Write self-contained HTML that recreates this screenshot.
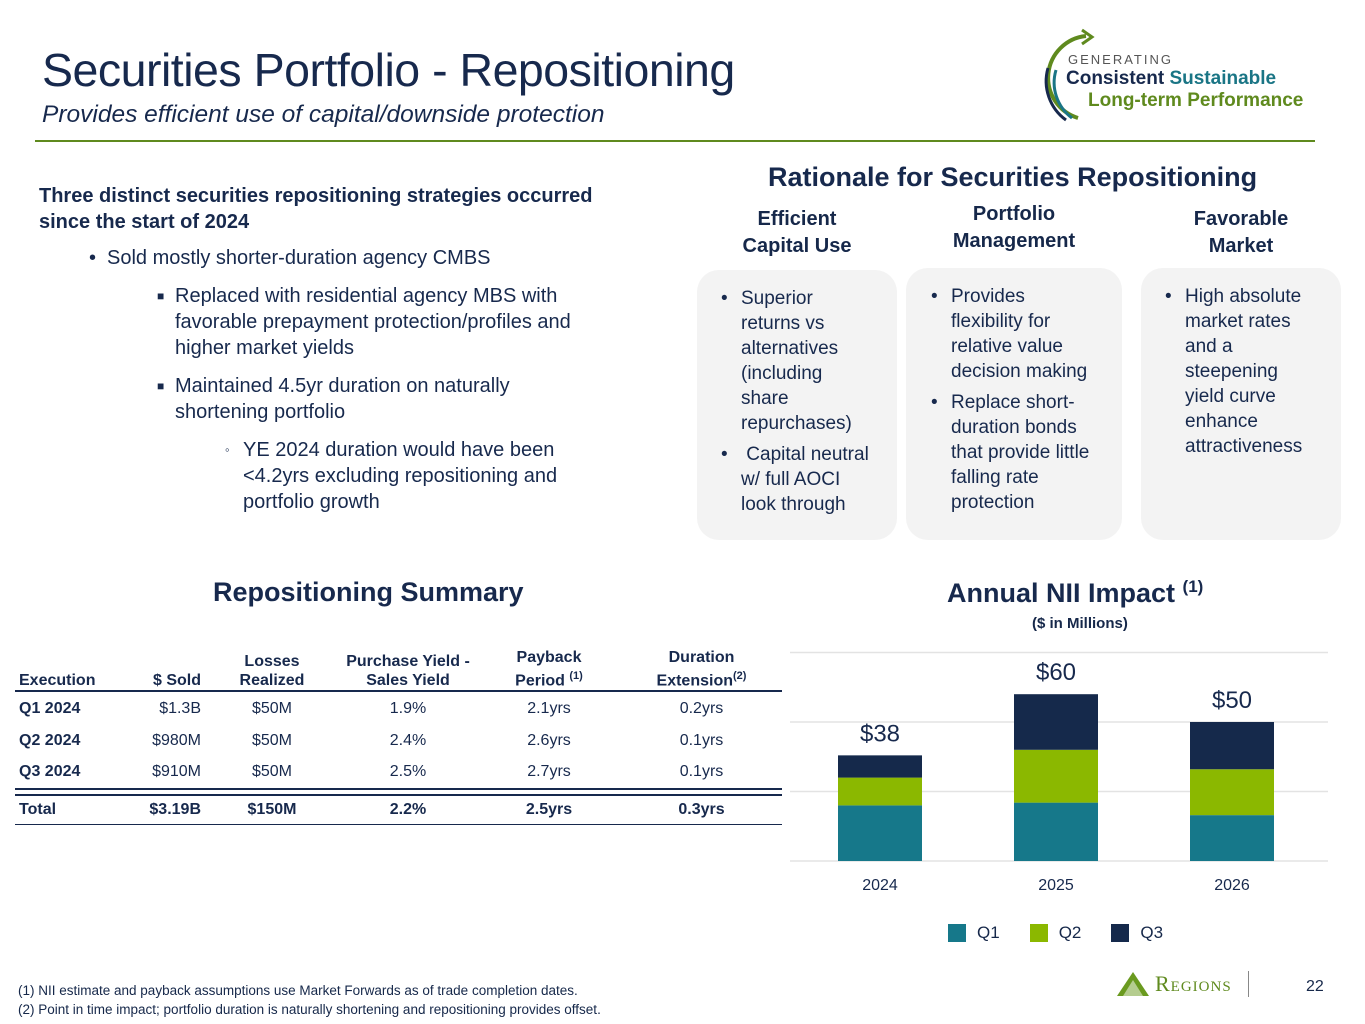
<!DOCTYPE html>
<html><head><meta charset="utf-8">
<style>
*{margin:0;padding:0;box-sizing:border-box}
body{width:1365px;height:1024px;background:#fff;position:relative;overflow:hidden;font-family:"Liberation Sans",sans-serif;color:#16284a}
.a{position:absolute}
.title{left:42px;top:43px;font-size:46.5px;color:#17294d;letter-spacing:-0.5px}
.sub{left:42px;top:101px;font-size:24.5px;font-style:italic;color:#17294d}
.rule{left:35px;top:140px;width:1280px;height:2px;background:#5f8a1e}
.h{font-weight:bold;font-size:27px;color:#17294d}
.card{background:#f3f3f3;border-radius:22px}
.card ul{list-style:none;font-size:19px;line-height:25px;color:#17294d}
.card li{position:relative;padding-left:20px;margin-bottom:6px}
.card li:before{content:"•";position:absolute;left:0}
.col{font-weight:bold;font-size:20px;text-align:center;line-height:27px}
.txt{font-size:20px;line-height:26px;color:#17294d}
table{border-collapse:collapse;font-size:16px;color:#17294d;table-layout:fixed}
td,th{padding:0 4px;text-align:center}
.lg{width:18px;height:18px}
</style></head><body>
<div class="a title">Securities Portfolio - Repositioning</div>
<div class="a sub">Provides efficient use of capital/downside protection</div>
<div class="a rule"></div>

<div class="a" style="left:1036px;top:28px;width:290px;height:95px">
<svg class="a" style="left:0;top:0" width="90" height="95"><path d="M50 8 A42 42 0 0 0 42 90" fill="none" stroke="#5f8a1e" stroke-width="4"/><path d="M46 2 L56 9 L46 16" fill="none" stroke="#5f8a1e" stroke-width="3"/><path d="M12 40 A48 48 0 0 0 30 92" fill="none" stroke="#17294d" stroke-width="3"/><path d="M20 42 A44 44 0 0 0 36 90" fill="none" stroke="#1a7585" stroke-width="3"/></svg>
<div class="a" style="left:32px;top:24px;font-size:13px;letter-spacing:2px;color:#555">GENERATING</div>
<div class="a" style="left:30px;top:40px;font-size:19px;font-weight:bold;color:#17294d">Consistent <span style="color:#1a7585">Sustainable</span></div>
<div class="a" style="left:52px;top:62px;font-size:19px;font-weight:bold;color:#5f8a1e">Long-term Performance</div>
</div>

<div class="a txt" style="left:39px;top:183px;width:595px">
<div style="font-weight:bold">Three distinct securities repositioning strategies occurred since the start of 2024</div>
<div style="margin:10px 0 0 50px;padding-left:18px;position:relative"><span class="a" style="left:0">•</span>Sold mostly shorter-duration agency CMBS</div>
<div style="margin:12px 0 0 118px;padding-left:18px;position:relative;width:440px"><span class="a" style="left:0;font-size:12px">■</span>Replaced with residential agency MBS with favorable prepayment protection/profiles and higher market yields</div>
<div style="margin:12px 0 0 118px;padding-left:18px;position:relative;width:420px"><span class="a" style="left:0;font-size:12px">■</span>Maintained 4.5yr duration on naturally shortening portfolio</div>
<div style="margin:12px 0 0 186px;padding-left:18px;position:relative;width:380px"><span class="a" style="left:0;font-size:13px">◦</span>YE 2024 duration would have been &lt;4.2yrs excluding repositioning and portfolio growth</div>
</div>

<div class="a h" style="left:768px;top:162px">Rationale for Securities Repositioning</div>
<div class="a col" style="left:697px;top:206px;width:200px">Efficient<br>Capital Use</div>
<div class="a col" style="left:906px;top:201px;width:216px">Portfolio<br>Management</div>
<div class="a col" style="left:1141px;top:206px;width:200px">Favorable<br>Market</div>
<div class="a card" style="left:697px;top:270px;width:200px;height:270px;padding:16px 0 0 24px;white-space:nowrap"><ul><li>Superior<br>returns vs<br>alternatives<br>(including<br>share<br>repurchases)</li><li>&nbsp;Capital neutral<br>w/ full AOCI<br>look through</li></ul></div>
<div class="a card" style="left:906px;top:268px;width:216px;height:272px;padding:16px 28px 0 25px"><ul><li>Provides flexibility for relative value decision making</li><li>Replace short-duration bonds that provide little falling rate protection</li></ul></div>
<div class="a card" style="left:1141px;top:268px;width:200px;height:272px;padding:16px 36px 0 24px"><ul><li>High absolute market rates and a steepening yield curve enhance attractiveness</li></ul></div>

<div class="a h" style="left:213px;top:577px">Repositioning Summary</div>
<div class="a" style="left:15px;top:648px;width:767px">
<table style="width:767px">
<colgroup><col style="width:110px"><col style="width:80px"><col style="width:134px"><col style="width:138px"><col style="width:144px"><col></colgroup>
<tr style="font-weight:bold;height:42px;vertical-align:bottom;line-height:19px"><th style="text-align:left">Execution</th><th style="text-align:right">$ Sold</th><th>Losses<br>Realized</th><th>Purchase Yield -<br>Sales Yield</th><th>Payback<br>Period <sup style="font-size:11px">(1)</sup></th><th>Duration<br>Extension<sup style="font-size:11px">(2)</sup></th></tr>
<tr style="height:2px"><td colspan="6" style="background:#17294d;padding:0;height:2px"></td></tr>
<tr style="height:33px"><td style="text-align:left;font-weight:bold">Q1 2024</td><td style="text-align:right">$1.3B</td><td>$50M</td><td>1.9%</td><td>2.1yrs</td><td>0.2yrs</td></tr>
<tr style="height:31px"><td style="text-align:left;font-weight:bold">Q2 2024</td><td style="text-align:right">$980M</td><td>$50M</td><td>2.4%</td><td>2.6yrs</td><td>0.1yrs</td></tr>
<tr style="height:33px"><td style="text-align:left;font-weight:bold">Q3 2024</td><td style="text-align:right">$910M</td><td>$50M</td><td>2.5%</td><td>2.7yrs</td><td>0.1yrs</td></tr>
<tr><td colspan="6" style="padding:0;height:6px;border-top:2px solid #17294d;border-bottom:2px solid #17294d"></td></tr>
<tr style="height:29px;font-weight:bold"><td style="text-align:left">Total</td><td style="text-align:right">$3.19B</td><td>$150M</td><td>2.2%</td><td>2.5yrs</td><td>0.3yrs</td></tr>
<tr><td colspan="6" style="padding:0;height:1px;background:#17294d"></td></tr>
</table></div>

<div class="a h" style="left:947px;top:577px">Annual NII Impact <sup style="font-size:17px">(1)</sup></div>
<div class="a" style="left:1032px;top:615px;font-size:15px;font-weight:bold">($ in Millions)</div>
<svg class="a" id="chart" style="left:780px;top:640px" width="560" height="310"></svg>
<div class="a" style="left:948px;top:923px;font-size:17px;display:flex;align-items:center">
<div class="lg" style="background:#16788a"></div><span style="margin:0 30px 0 11px">Q1</span>
<div class="lg" style="background:#8bb800"></div><span style="margin:0 30px 0 11px">Q2</span>
<div class="lg" style="background:#15294b"></div><span style="margin:0 0 0 11px">Q3</span>
</div>

<div class="a" style="left:18px;top:981px;font-size:13.5px;line-height:19px">(1) NII estimate and payback assumptions use Market Forwards as of trade completion dates.<br>(2) Point in time impact; portfolio duration is naturally shortening and repositioning provides offset.</div>
<div class="a" style="left:1115px;top:970px;display:flex;align-items:center">
<svg width="36" height="28"><polygon points="18,2 34,26 2,26" fill="#6a9a1f"/><polygon points="18,10 28,26 8,26" fill="#fff" opacity=".5"/></svg>
<span style="font-family:'Liberation Serif',serif;font-size:22px;color:#5f8a1e;font-variant:small-caps;margin-left:4px;letter-spacing:1px">Regions</span>
<span style="width:1px;height:26px;background:#888;margin-left:16px"></span>
</div>
<div class="a" style="left:1306px;top:978px;font-size:16px">22</div>

<script>
const years=["2024","2025","2026"];
const q1=[20,21,16.5];
const q2=[10,19,16.5];
const q3=[8,20,17];
const totals=["$38","$60","$50"];
const gridTicks=[0,25,50,75];
const svg=document.getElementById('chart');
const NS="http://www.w3.org/2000/svg";
const y0=221,scale=2.78;
const y=v=>y0-v*scale;
const bw=84,step=176,x0=58;
const x=i=>x0+i*step;
function mk(t,a){const e=document.createElementNS(NS,t);for(const k in a)e.setAttribute(k,a[k]);svg.appendChild(e);return e;}
gridTicks.forEach(t=>{const l=mk('line',{x1:10,x2:548,y1:y(t),y2:y(t),stroke:'#e3e3e3','stroke-width':1.5});

});
const series=[[q1,'#16788a','q1'],[q2,'#8bb800','q2'],[q3,'#15294b','q3']];
years.forEach((yr,i)=>{let base=0;
series.forEach(([arr,c,n])=>{const r=mk('rect',{x:x(i),y:y(base+arr[i]),width:bw,height:arr[i]*scale,fill:c});


base+=arr[i];});
const lt=mk('text',{x:x(i)+bw/2,y:y(base)-14,'text-anchor':'middle','font-size':24,fill:'#17294d','font-family':'Liberation Sans'});lt.textContent=totals[i];


const xt=mk('text',{x:x(i)+bw/2,y:250,'text-anchor':'middle','font-size':16,fill:'#17294d','font-family':'Liberation Sans'});xt.textContent=yr;


});
</script>
</body></html>
